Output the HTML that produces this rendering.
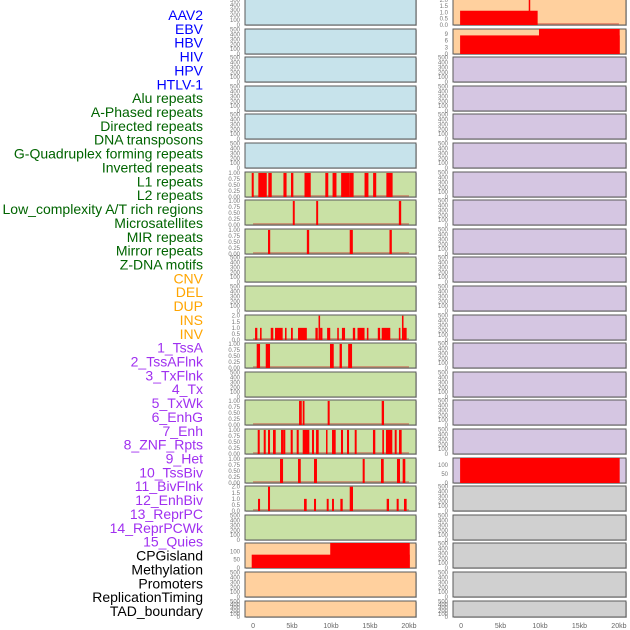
<!DOCTYPE html>
<html><head><meta charset="utf-8">
<style>
html,body{margin:0;padding:0;background:#fff;width:630px;height:630px;overflow:hidden}
svg{display:block;font-family:"Liberation Sans",sans-serif}
</style></head>
<body>
<svg id="chart" width="630" height="630" viewBox="0 0 630 630" xmlns="http://www.w3.org/2000/svg"></svg>
<script>
const trackLabels = ["AAV2","EBV","HBV","HIV","HPV","HTLV-1","Alu repeats","A-Phased repeats","Directed repeats","DNA transposons","G-Quadruplex forming repeats","Inverted repeats","L1 repeats","L2 repeats","Low_complexity A/T rich regions","Microsatellites","MIR repeats","Mirror repeats","Z-DNA motifs","CNV","DEL","DUP","INS","INV","1_TssA","2_TssAFlnk","3_TxFlnk","4_Tx","5_TxWk","6_EnhG","7_Enh","8_ZNF_Rpts","9_Het","10_TssBiv","11_BivFlnk","12_EnhBiv","13_ReprPC","14_ReprPCWk","15_Quies","CPGisland","Methylation","Promoters","ReplicationTiming","TAD_boundary"];
const labelColors = ["#0000ff","#0000ff","#0000ff","#0000ff","#0000ff","#0000ff","#006400","#006400","#006400","#006400","#006400","#006400","#006400","#006400","#006400","#006400","#006400","#006400","#006400","#ffa500","#ffa500","#ffa500","#ffa500","#ffa500","#a030f0","#a030f0","#a030f0","#a030f0","#a030f0","#a030f0","#a030f0","#a030f0","#a030f0","#a030f0","#a030f0","#a030f0","#a030f0","#a030f0","#a030f0","#000","#000","#000","#000","#000"];
const xTicks = [0,5,10,15,20];
const xTickLabels = ["0","5kb","10kb","15kb","20kb"];
// panel scale type per panel: left column 22, right column 22
const leftScales = ["s500","s500","s500","s500","s500","s500","s1","s1","s1","s500","s500","s2","s1","s500","s1","s1","s1","s2","s500","s100","s500","s500"];
const rightScales = ["s2","s9","s500","s500","s500","s500","s500","s500","s500","s500","s500","s500","s500","s500","s500","s500","s100b","s500","s500","s500","s500","s500"];
const leftBg = ["#c7e3eb","#c7e3eb","#c7e3eb","#c7e3eb","#c7e3eb","#c7e3eb","#c9e1a5","#c9e1a5","#c9e1a5","#c9e1a5","#c9e1a5","#c9e1a5","#c9e1a5","#c9e1a5","#c9e1a5","#c9e1a5","#c9e1a5","#c9e1a5","#c9e1a5","#ffd09e","#ffd09e","#ffd09e"];
const rightBg = ["#ffd09e","#ffd09e","#d5c6e2","#d5c6e2","#d5c6e2","#d5c6e2","#d5c6e2","#d5c6e2","#d5c6e2","#d5c6e2","#d5c6e2","#d5c6e2","#d5c6e2","#d5c6e2","#d5c6e2","#d5c6e2","#d5c6e2","#d0d0d0","#d0d0d0","#d0d0d0","#d0d0d0","#d0d0d0"];
// interval data [startKb, endKb, value]
const row7 = [[-0.17,0.09,1],[0.68,1.76,1],[1.96,2.4,1],[3.9,4.3,1],[4.87,5.17,1],[6.6,7.4,1],[9.27,9.65,1],[10.2,10.7,1],[11.3,12.4,1],[12.4,12.9,1],[14.3,14.8,1],[15.4,15.8,1],[17.1,17.9,1]];
const row8 = [[5.1,5.35,1],[8.1,8.35,1],[18.7,19.0,1]];
const row9 = [[1.92,2.2,1],[6.9,7.2,1],[12.4,12.8,1],[17.5,17.8,1]];
const row12 = [[0.26,0.55,1],[0.9,1.1,1],[2.27,2.6,1],[2.82,3.8,1],[4.1,4.3,1],[4.87,5.1,1],[5.77,6.9,1],[8.0,8.3,1],[8.4,8.6,2],[8.6,8.9,1],[9.5,9.9,1],[10.8,11.0,1],[11.4,11.8,1],[12.8,13.1,1],[13.4,14.3,1],[14.6,14.8,1],[16.0,16.3,1],[16.5,17.6,1],[18.7,18.9,1],[19.1,19.3,2],[19.3,19.7,1]];
const row13 = [[0.47,0.9,1],[1.63,2.18,1],[9.87,10.35,1],[11.1,11.4,1],[12.2,12.7,1]];
const row15 = [[5.9,6.25,1],[6.37,6.6,1],[9.57,9.83,1],[16.5,16.8,1]];
const row16 = [[0.6,0.86,1],[1.37,1.63,1],[1.92,2.18,1],[2.56,2.91,1],[3.59,3.88,1],[3.88,4.14,1],[4.83,5.09,1],[5.6,5.86,1],[6.37,7.22,1],[7.56,7.82,1],[8.08,8.42,1],[9.36,9.53,1],[10.13,10.6,1],[11.28,11.54,1],[12.05,12.31,1],[13.04,13.29,1],[15.38,15.68,1],[16.58,16.79,1],[17.05,17.86,1],[18.17,18.42,1],[18.72,19.06,1]];
const row17 = [[3.46,3.85,1],[5.77,6.12,1],[7.82,8.2,1],[14.06,14.32,1],[16.41,16.76,1],[18.46,18.85,1],[19.19,19.53,1]];
const row18 = [[0.64,0.9,1],[1.92,2.18,2],[6.54,6.88,1],[7.82,8.08,1],[9.45,9.7,1],[10.13,10.38,1],[11.2,11.5,1],[12.4,12.82,2],[17.14,17.44,1],[18.42,18.68,1],[19.36,19.7,1]];
const rowCNV = [[-0.17,20.1,80],[9.9,20.1,160]];
const rowINV = [[-0.13,9.7,1.13],[8.57,8.73,2.2]];
const rowINS = [[-0.13,20.1,8.4],[9.87,20.1,12]];
const rowTssBiv = [[-0.13,20.1,150]];
const leftData = {6:row7,7:row8,8:row9,11:row12,12:row13,14:row15,15:row16,16:row17,17:row18,19:rowCNV};
const rightData = {0:rowINV,1:rowINS,16:rowTssBiv};

const NS="http://www.w3.org/2000/svg";
const svg=document.getElementById('chart');
function mk(tag,attrs,parent){const e=document.createElementNS(NS,tag);for(const k in attrs)e.setAttribute(k,attrs[k]);(parent||svg).appendChild(e);return e;}
const scaleDefs={
 s500:{max:515,ticks:[0,100,200,300,400,500],fmt:v=>String(v)},
 s1:{max:1.04,ticks:[0,0.25,0.5,0.75,1],fmt:v=>v.toFixed(2)},
 s2:{max:2.06,ticks:[0,0.5,1,1.5,2],fmt:v=>v.toFixed(1)},
 s100:{max:150,ticks:[0,50,100],fmt:v=>String(v)},
 s100b:{max:137,ticks:[0,50,100],fmt:v=>String(v)},
 s9:{max:11.3,ticks:[0,3,6,9],fmt:v=>String(v)}
};
const cols=[{x0:245,x1:416,scales:leftScales,bg:leftBg,data:leftData},{x0:453,x1:626,scales:rightScales,bg:rightBg,data:rightData}];
const domLo=-1.03, domHi=20.9;
function rowTop(i){return i===0?-1:Math.round(i*28.6);}
function rowH(i){return i===0?26:(i===21?16:25);}

// labels
trackLabels.forEach((t,i)=>{
 const e=mk('text',{x:203,y:20+i*13.86,'text-anchor':'end','font-size':'14',fill:labelColors[i]});
 e.textContent=t;
 
 
});

cols.forEach((c,ci)=>{
 const xs=v=>c.x0+(v-domLo)/(domHi-domLo)*(c.x1-c.x0);
 for(let i=0;i<22;i++){
  const top=rowTop(i),h=rowH(i),bot=top+h;
  const sd=scaleDefs[c.scales[i]];
  const ys=v=>bot-Math.min(v,sd.max)/sd.max*h;
  const g=mk('g',{});
  
  
  mk('rect',{x:c.x0+1,y:top+1,width:c.x1-c.x0,height:h,fill:'#999',opacity:0.5},g);
  mk('rect',{x:c.x0,y:top,width:c.x1-c.x0,height:h,fill:c.bg[i],stroke:'#5a5a5a','stroke-width':1},g);
  const d=c.data[i];
  if(d){
   mk('rect',{x:xs(0),y:bot-2,width:xs(20)-xs(0),height:1.5,fill:'rgba(200,40,40,0.4)'},g);
   d.forEach((iv,k)=>{
    const r=mk('rect',{x:xs(iv[0]),y:ys(iv[2]),width:Math.max(1.5,xs(iv[1])-xs(iv[0])),height:bot-ys(iv[2]),fill:'#ff0000'},g);
    
    
   });
  }
  sd.ticks.forEach(tv=>{
   const ty=ys(tv);
   const t=mk('text',{x:c.x0-5,y:ty+2,'text-anchor':'end','font-size':'6',fill:'#777'},g);
   t.textContent=sd.fmt(tv);
  });
 }
 xTicks.forEach((v,k)=>{
  const t=mk('text',{x:xs(v),y:628,'text-anchor':'middle','font-size':'7',fill:'#666'});
  t.textContent=xTickLabels[k];
  
  
 });
});
</script>
</body></html>
